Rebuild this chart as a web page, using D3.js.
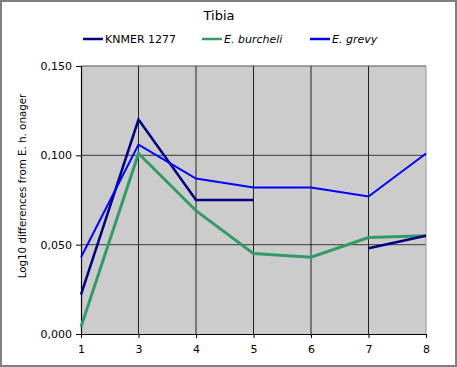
<!DOCTYPE html>
<html><head><meta charset="utf-8">
<script src="https://cdn.jsdelivr.net/npm/d3@7"></script>
<style>body{margin:0;background:#fff}svg{display:block}text{font-family:"DejaVu Sans",Verdana,sans-serif}</style>
</head><body><svg id="c" width="457" height="367"></svg>
<script>
const categories = ["1","3","4","5","6","7","8"];
const knmer = [0.022, 0.120, 0.075, 0.075, null, 0.048, 0.055];
const burcheli = [0.004, 0.101, 0.069, 0.045, 0.043, 0.054, 0.055];
const grevy = [0.043, 0.106, 0.087, 0.082, 0.082, 0.077, 0.101];
const yTicks = [0, 0.05, 0.1, 0.15];
const seriesNames = ["KNMER 1277", "E. burcheli", "E. grevy"];
const seriesColors = ["#000080", "#339966", "#0000ff"];

const svg = d3.select("#c");
const L = 81, R = 426, T = 66, B = 334;
const x = d3.scalePoint().domain(categories).range([L, R]).padding(0);
const y = d3.scaleLinear().domain([0, 0.15]).range([B, T]);
const fmt = v => d3.format(".3f")(v).replace(".", ",");

svg.append("rect").attr("x",1).attr("y",1).attr("width",455).attr("height",365)
  .attr("fill","#fff").attr("stroke","#808080").attr("stroke-width",2);
svg.append("rect").attr("x",L).attr("y",T).attr("width",R-L).attr("height",B-T).attr("fill","#cccccc");

// horizontal gridlines
svg.append("g").selectAll("line").data(yTicks.filter(d=>d>0)).join("line")
  .attr("x1",L).attr("x2",R).attr("y1",d=>y(d)).attr("y2",d=>y(d))
  .attr("stroke","#555").attr("stroke-width",1.2);
// vertical gridlines
svg.append("g").selectAll("line").data(categories.slice(1)).join("line")
  .attr("x1",d=>x(d)).attr("x2",d=>x(d)).attr("y1",T).attr("y2",B)
  .attr("stroke",(d,i)=> i===categories.length-2 ? "#999" : "#222").attr("stroke-width",1);

// axes
const yAxis = svg.append("g").attr("transform",`translate(${L},0)`)
  .call(d3.axisLeft(y).tickValues(yTicks).tickFormat(fmt).tickSize(5).tickPadding(4));
const xAxis = svg.append("g").attr("transform",`translate(0,${B})`)
  .call(d3.axisBottom(x).tickSize(4).tickPadding(7));
[yAxis, xAxis].forEach(a=>{
  a.select(".domain").attr("stroke","#000").attr("stroke-width",1.2);
  a.selectAll(".tick line").attr("stroke","#000");
  a.selectAll("text").attr("font-size",11).attr("fill","#000")
    .attr("font-family",'"DejaVu Sans",Verdana,sans-serif');
});
xAxis.select(".domain").attr("d",`M${L},0.5H${R}`);
xAxis.selectAll(".tick line").attr("y2",4);

// lines
const line = d3.line().defined(d=>d.v!==null).x(d=>x(d.c)).y(d=>y(d.v));
const data = [knmer, burcheli, grevy];
const widths = [2.5, 3, 2];
const order = [1, 0, 2];
order.forEach(i=>{
  svg.append("path").datum(categories.map((c,j)=>({c, v:data[i][j]})))
    .attr("d", line).attr("fill","none").attr("stroke",seriesColors[i])
    .attr("stroke-width",widths[i]).attr("stroke-linejoin","miter");
});

// title
svg.append("text").attr("x",219).attr("y",20).attr("text-anchor","middle")
  .attr("font-size",13).text("Tibia");

// legend
const legX = [83, 202, 310];
seriesNames.forEach((n,i)=>{
  const g = svg.append("g");
  g.append("line").attr("x1",legX[i]).attr("x2",legX[i]+20).attr("y1",39).attr("y2",39)
    .attr("stroke",seriesColors[i]).attr("stroke-width",2.5);
  g.append("text").attr("x",legX[i]+22).attr("y",43).attr("font-size",11)
    .attr("font-style", i===0 ? "normal" : "italic").text(n);
});

// y label
svg.append("text").attr("transform",`translate(26,186) rotate(-90)`)
  .attr("text-anchor","middle").attr("font-size",10.3).text("Log10 differences from E. h. onager");
</script></body></html>
